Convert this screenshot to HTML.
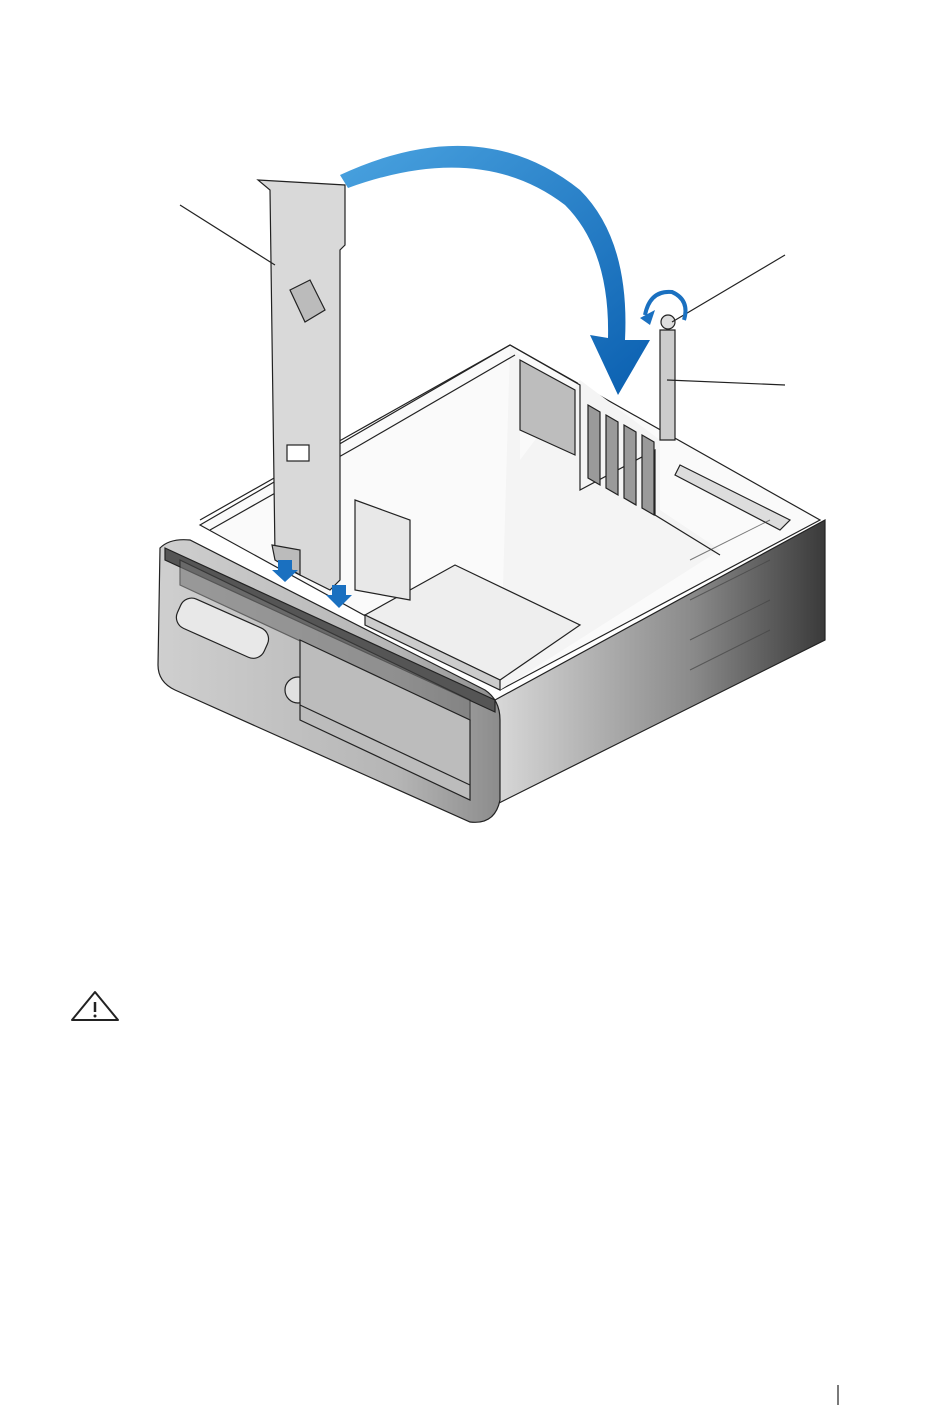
<!DOCTYPE html>
<html><head><meta charset="utf-8"><style>
html,body{margin:0;padding:0;background:#fff;width:950px;height:1414px;overflow:hidden}
svg{display:block}
</style></head><body>
<svg width="950" height="1414" viewBox="0 0 950 1414" xmlns="http://www.w3.org/2000/svg">
<defs>
<linearGradient id="side" x1="0" y1="0" x2="1" y2="0">
<stop offset="0" stop-color="#d8d8d8"/><stop offset="0.6" stop-color="#8a8a8a"/><stop offset="1" stop-color="#3a3a3a"/></linearGradient>
<linearGradient id="front" x1="0" y1="0" x2="1" y2="0">
<stop offset="0" stop-color="#cfcfcf"/><stop offset="0.7" stop-color="#b5b5b5"/><stop offset="1" stop-color="#8c8c8c"/></linearGradient>
<linearGradient id="blue" x1="0" y1="0" x2="1" y2="1">
<stop offset="0" stop-color="#4aa3e0"/><stop offset="1" stop-color="#0a5fb0"/></linearGradient>
</defs>
<g stroke="#222" stroke-width="1.2" fill="none">
<!-- chassis floor -->
<polygon points="200,525 510,345 820,520 500,690" fill="#fafafa"/>
<!-- back wall -->
<polygon points="510,345 520,355 520,460 580,380 660,440 660,510 720,550 500,690" fill="#f4f4f4" stroke="none"/>
<polyline points="510,345 580,385 580,490 655,450 655,515 720,555"/>
<polygon points="520,360 575,390 575,455 520,430" fill="#bdbdbd"/>
<!-- PCI slots -->
<g fill="#9a9a9a">
<polygon points="588,405 600,412 600,485 588,478"/>
<polygon points="606,415 618,422 618,495 606,488"/>
<polygon points="624,425 636,432 636,505 624,498"/>
<polygon points="642,435 654,442 654,515 642,508"/>
</g>
<!-- left side top edge -->
<polyline points="200,520 350,435 510,345"/>
<polyline points="210,530 360,445 515,355"/>
<!-- vents right -->
<polygon points="680,465 790,520 780,530 675,475" fill="#ddd"/>
<!-- drive cage -->
<polygon points="365,615 455,565 580,625 500,680" fill="#eee"/>
<polygon points="365,615 500,680 500,690 365,625" fill="#ccc"/>
<polygon points="355,500 410,520 410,600 355,590" fill="#e8e8e8"/>
<!-- right side panel -->
<polygon points="495,700 825,520 825,640 495,805" fill="url(#side)"/>
<g stroke="#444" stroke-width="1" opacity="0.7">
<line x1="690" y1="560" x2="770" y2="520"/><line x1="690" y1="600" x2="770" y2="560"/>
<line x1="690" y1="640" x2="770" y2="600"/><line x1="690" y1="670" x2="770" y2="630"/>
</g>
<!-- front bezel -->
<path d="M160,548 Q170,538 190,540 L485,690 Q500,700 500,720 L500,800 Q495,825 470,822 L175,690 Q158,682 158,665 Z" fill="url(#front)"/>
<path d="M165,548 L495,700 L495,712 L165,560 Z" fill="#555"/>
<path d="M180,560 L470,700 L470,720 L180,585 Z" fill="#777" opacity="0.6"/>
<rect x="175" y="612" width="95" height="32" rx="12" transform="rotate(24 222 628)" fill="#e8e8e8"/>
<circle cx="298" cy="690" r="13" fill="#e0e0e0"/>
<path d="M300,640 L470,720 L470,800 L300,720 Z" fill="#bcbcbc"/>
<line x1="300" y1="705" x2="470" y2="785"/>
<!-- left panel bracket -->
<path d="M258,180 L345,185 L345,245 L340,250 L340,580 L330,590 L280,565 L275,555 L270,190 Z" fill="#d9d9d9"/>
<path d="M290,290 L310,280 L325,310 L305,322 Z" fill="#bbb"/>
<rect x="287" y="445" width="22" height="16" fill="#fff"/>
<path d="M272,545 L300,550 L300,575 L275,560 Z" fill="#bbb"/>
<!-- small bracket right -->
<path d="M660,330 L675,330 L675,440 L660,440 Z" fill="#ccc"/>
<circle cx="668" cy="322" r="7" fill="#ddd"/>
<!-- callouts -->
<line x1="180" y1="205" x2="275" y2="265"/>
<line x1="785" y1="255" x2="672" y2="322"/>
<line x1="785" y1="385" x2="667" y2="380"/>
</g>
<!-- blue arc arrow -->
<path d="M340,175 Q480,110 580,190 Q630,240 625,340 L650,340 L618,395 L590,335 L608,338 Q610,250 565,205 Q480,140 348,188 Z" fill="url(#blue)"/>
<path d="M645,315 Q650,290 672,292 Q690,300 684,320" stroke="#1a70c0" stroke-width="4" fill="none"/>
<polygon points="640,318 655,310 650,325" fill="#1a70c0"/>
<!-- small blue arrows -->
<polygon points="278,560 292,560 292,570 298,570 285,582 272,570 278,570" fill="#1a70c0"/>
<polygon points="332,585 346,585 346,595 352,595 339,608 326,595 332,595" fill="#1a70c0"/>
<!-- warning triangle -->
<polygon points="95,992 118,1020 72,1020" fill="none" stroke="#222" stroke-width="2" stroke-linejoin="round"/>
<line x1="95" y1="1002" x2="95" y2="1012" stroke="#222" stroke-width="2.5"/>
<circle cx="95" cy="1016" r="1.5" fill="#222"/>
<line x1="838" y1="1385" x2="838" y2="1405" stroke="#222" stroke-width="1.2"/>
</svg>
</body></html>
